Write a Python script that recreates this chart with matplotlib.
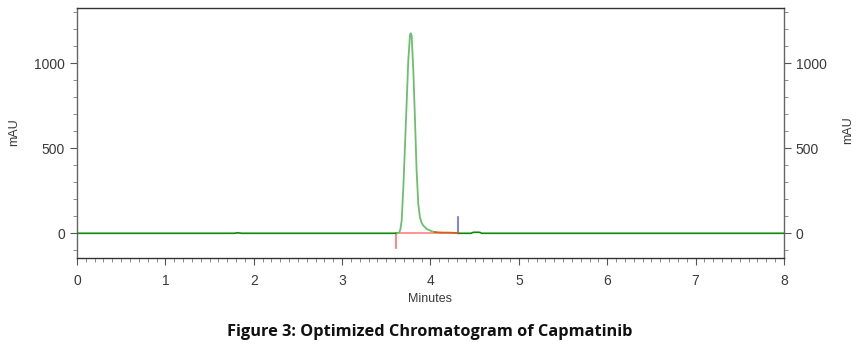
import matplotlib
matplotlib.use("Agg")
import matplotlib.pyplot as plt
from matplotlib.ticker import MultipleLocator
from matplotlib import font_manager

# ---- data ----
base_time = [0.0, 1.78, 1.80, 1.82, 1.84, 1.86, 3.62]
base_mau = [0.0, 0.0, 1.5, 3.0, 1.5, 0.0, 0.0]

peak_time = [3.62, 3.647, 3.660, 3.674, 3.693, 3.711, 3.730, 3.749, 3.768, 3.776,
             3.787, 3.806, 3.825, 3.843, 3.862, 3.881, 3.900, 3.919, 3.957, 4.013, 4.05]
peak_mau = [0.0, 4, 25, 75, 271, 506, 761, 1016, 1163, 1176,
            1163, 957, 663, 369, 173, 94, 62, 45, 26, 12, 7]

tail_time = [4.05, 4.10, 4.15, 4.20, 4.25, 4.29, 4.31]
tail_mau = [7, 5, 4, 4, 3, 2, 0]

post_time = [4.31, 4.46, 4.48, 4.50, 4.54, 4.56, 4.58, 8.0]
post_mau = [0.0, 0.0, 5, 6, 6, 5, 0.0, 0.0]

integ_start, integ_end = 3.61, 4.31
integ_mark_low = -88
integ_mark_high = 98

x_ticks = [0, 1, 2, 3, 4, 5, 6, 7, 8]
y_ticks = [0, 500, 1000]

names = {f.name for f in font_manager.fontManager.ttflist}
narrow = "Liberation Sans Narrow" if "Liberation Sans Narrow" in names else "Liberation Sans"

# ---- figure ----
fig = plt.figure(figsize=(8.6, 3.53), dpi=100)
ax = fig.add_axes([0.0895, 0.2683, 0.9116 - 0.0895, 0.9765 - 0.2683])

green = "#0a8a0a"
ax.plot(base_time, base_mau, color=green, lw=1.2, zorder=3)
ax.plot(post_time, post_mau, color=green, lw=1.2, zorder=3)
ax.plot(peak_time, peak_mau, color="#6cbf6c", lw=1.3, zorder=3)
# integration baseline and marks
ax.plot([integ_start, integ_end], [0, 0], color="#ff8080", lw=1.2, zorder=2)
ax.plot([integ_start, integ_start], [integ_mark_low, 0], color="#ff7070", lw=1.2, zorder=2)
ax.plot([integ_end, integ_end], [0, integ_mark_high], color="#6a6af0", lw=1.2, zorder=2)
ax.plot(tail_time, tail_mau, color="#c8641e", lw=1.3, zorder=4)

ax.set_xlim(0, 8)
ax.set_ylim(-147, 1323)

ax.set_xticks(x_ticks)
ax.set_yticks(y_ticks)
ax.xaxis.set_minor_locator(MultipleLocator(0.1))
ax.yaxis.set_minor_locator(MultipleLocator(100))

lab_color = "#3a3a3a"
ax.tick_params(axis="both", which="major", direction="out", length=5, width=0.8,
               color="#555555", labelsize=10, labelcolor=lab_color)
ax.tick_params(axis="both", which="minor", direction="out", length=3, width=0.6,
               color="#777777")
ax.tick_params(axis="y", which="both", left=True, right=True, labelleft=True, labelright=True)
ax.tick_params(axis="x", which="both", top=False)
ax.tick_params(axis="x", which="major", pad=6)
for lab in ax.get_xticklabels() + ax.get_yticklabels() + ax.yaxis.get_ticklabels(which="major"):
    lab.set_family(narrow)
for t in ax.yaxis.get_major_ticks():
    t.label2.set_family(narrow)

for s in ["left", "right"]:
    ax.spines[s].set_color("#666666")
    ax.spines[s].set_linewidth(1.0)
for s in ["top", "bottom"]:
    ax.spines[s].set_color("#333333")
    ax.spines[s].set_linewidth(1.0)

ax.set_xlabel("Minutes", fontsize=9, color=lab_color, labelpad=4, family=narrow)
fig.text(0.017, 0.625, "mAU", rotation=90, fontsize=9, color=lab_color,
         ha="center", va="center", family=narrow)
fig.text(0.986, 0.632, "mAU", rotation=90, fontsize=9, color=lab_color,
         ha="center", va="center", family=narrow)

fig.text(0.5, 0.06, "Figure 3: Optimized Chromatogram of Capmatinib",
         fontsize=11.8, fontweight="bold", family="Open Sans", ha="center", va="center",
         color="#111111")

fig.savefig("out.png", dpi=100)
